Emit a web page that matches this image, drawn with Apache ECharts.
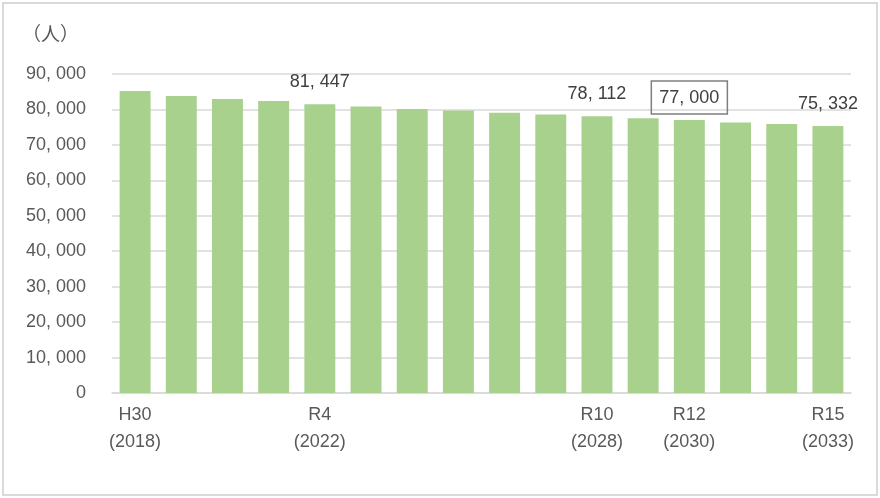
<!DOCTYPE html>
<html>
<head>
<meta charset="utf-8">
<script src="https://cdn.jsdelivr.net/npm/echarts@6/dist/echarts.min.js"></script>
<style>
  html, body { margin: 0; padding: 0; background: #fff; }
  #chart { width: 880px; height: 498px; }
</style>
</head>
<body>
<div id="chart"></div>
<script>
// Projected population by fiscal year (people)
const categories = [
  'H30\n(2018)', 'R1\n(2019)', 'R2\n(2020)', 'R3\n(2021)', 'R4\n(2022)',
  'R5\n(2023)', 'R6\n(2024)', 'R7\n(2025)', 'R8\n(2026)', 'R9\n(2027)',
  'R10\n(2028)', 'R11\n(2029)', 'R12\n(2030)', 'R13\n(2031)', 'R14\n(2032)',
  'R15\n(2033)'
];
const population = [
  85200, 83800, 82950, 82400, 81447, 80800, 80150, 79700,
  79050, 78600, 78112, 77550, 77000, 76300, 75900, 75332
];
// Categories whose axis label is printed
const shownTicks = [0, 4, 10, 12, 15];
// Bars that carry a value label, and the one drawn with a box
const labelled = [4, 10, 12, 15];
const boxed = 12;
const yTicks = { min: 0, max: 90000, step: 10000 };

const FONT = '"Liberation Sans", "Noto Sans CJK JP", sans-serif';
const fmt = v => {
  const s = String(Math.round(v));
  return s.replace(/\B(?=(\d{3})+(?!\d))/g, ', ');
};

const chart = echarts.init(document.getElementById('chart'));

const seriesData = population.map((v, i) => {
  if (!labelled.includes(i)) return { value: v };
  const lab = {
    show: true,
    position: 'top',
    distance: 6,
    padding: [8, 8, 7, 8],
    fontFamily: FONT,
    fontSize: 18,
    color: '#404040',
    formatter: p => fmt(p.value)
  };
  if (i === boxed) {
    lab.borderColor = '#7f7f7f';
    lab.borderWidth = 1.5;
  }
  return { value: v, label: lab };
});

chart.setOption({
  animation: false,
  graphic: [
    {
      type: 'rect',
      shape: { x: 3, y: 3, width: 874, height: 492 },
      style: { fill: 'none', stroke: '#d9d9d9', lineWidth: 2 }
    },
    {
      type: 'text',
      left: 22,
      top: 24,
      style: { text: '（人）', fontFamily: '"Noto Sans CJK JP", sans-serif', fontSize: 19, fill: '#595959' }
    }
  ],
  grid: { left: 112, right: 29, top: 74, bottom: 105 },
  xAxis: {
    type: 'category',
    data: categories,
    axisLine: { lineStyle: { color: '#d9d9d9', width: 1.5 } },
    axisTick: { show: false },
    axisLabel: {
      interval: i => shownTicks.includes(i),
      margin: 9,
      fontFamily: FONT,
      fontSize: 18,
      lineHeight: 27,
      color: '#595959'
    }
  },
  yAxis: {
    type: 'value',
    min: yTicks.min,
    max: yTicks.max,
    interval: yTicks.step,
    axisLine: { show: false },
    axisTick: { show: false },
    splitLine: { lineStyle: { color: '#d9d9d9', width: 1.5 } },
    axisLabel: {
      margin: 26,
      fontFamily: FONT,
      fontSize: 18,
      color: '#595959',
      formatter: v => fmt(v)
    }
  },
  series: [{
    type: 'bar',
    data: seriesData,
    barCategoryGap: '33%',
    itemStyle: { color: '#a9d18e' }
  }]
});
</script>
</body>
</html>
